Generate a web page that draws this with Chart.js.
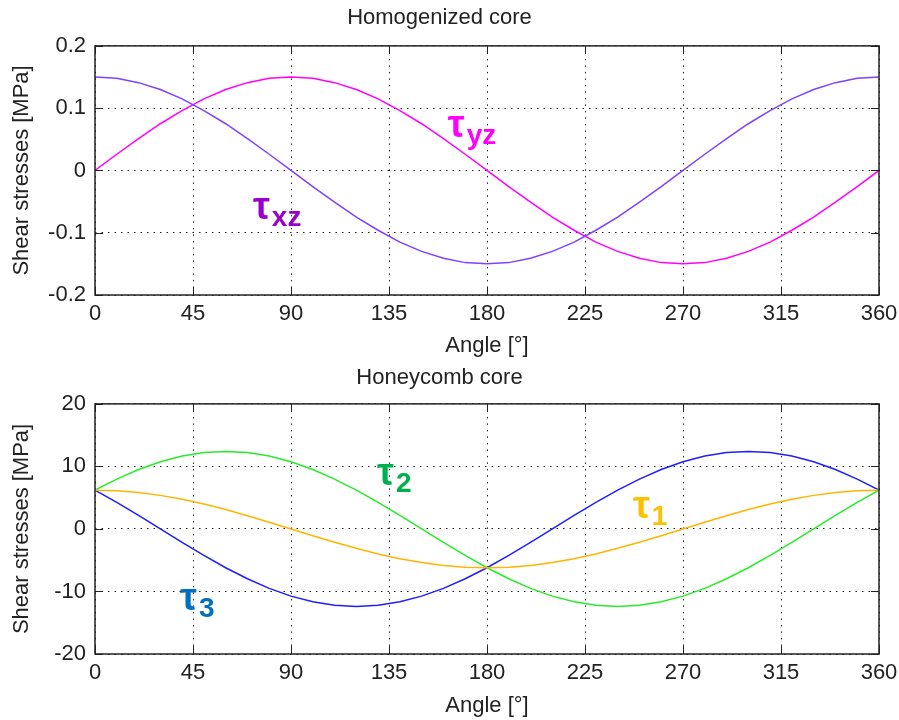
<!DOCTYPE html>
<html>
<head>
<meta charset="utf-8">
<script src="https://cdn.jsdelivr.net/npm/chart.js@4"></script>
<style>
  body { margin: 0; background: #fff; }
  canvas { display: block; }
</style>
</head>
<body>
<canvas id="homChart" width="899" height="360"></canvas>
<canvas id="honChart" width="899" height="360"></canvas>
<script>
// angle samples (deg)
const angles = [0, 10, 20, 30, 40, 50, 60, 70, 80, 90, 100, 110, 120, 130, 140, 150, 160, 170, 180,
  190, 200, 210, 220, 230, 240, 250, 260, 270, 280, 290, 300, 310, 320, 330, 340, 350, 360];
const angleTicks = [0, 45, 90, 135, 180, 225, 270, 315, 360];

// Homogenized core [MPa]
const tauXZ = [0.150, 0.148, 0.141, 0.130, 0.115, 0.096, 0.075, 0.051, 0.026, 0, -0.026, -0.051, -0.075,
  -0.096, -0.115, -0.130, -0.141, -0.148, -0.150, -0.148, -0.141, -0.130, -0.115, -0.096, -0.075, -0.051,
  -0.026, 0, 0.026, 0.051, 0.075, 0.096, 0.115, 0.130, 0.141, 0.148, 0.150];
const tauYZ = [0, 0.026, 0.051, 0.075, 0.096, 0.115, 0.130, 0.141, 0.148, 0.150, 0.148, 0.141, 0.130,
  0.115, 0.096, 0.075, 0.051, 0.026, 0, -0.026, -0.051, -0.075, -0.096, -0.115, -0.130, -0.141, -0.148,
  -0.150, -0.148, -0.141, -0.130, -0.115, -0.096, -0.075, -0.051, -0.026, 0];

// Honeycomb core [MPa]
const tau1 = [6.2, 6.11, 5.83, 5.37, 4.75, 3.99, 3.10, 2.12, 1.08, 0, -1.08, -2.12, -3.10, -3.99, -4.75,
  -5.37, -5.83, -6.11, -6.2, -6.11, -5.83, -5.37, -4.75, -3.99, -3.10, -2.12, -1.08, 0, 1.08, 2.12, 3.10,
  3.99, 4.75, 5.37, 5.83, 6.11, 6.2];
const tau2 = [6.2, 7.97, 9.50, 10.74, 11.65, 12.21, 12.4, 12.21, 11.65, 10.74, 9.50, 7.97, 6.2, 4.24, 2.16,
  0, -2.16, -4.24, -6.2, -7.97, -9.50, -10.74, -11.65, -12.21, -12.4, -12.21, -11.65, -10.74, -9.50, -7.97,
  -6.2, -4.24, -2.16, 0, 2.16, 4.24, 6.2];
const tau3 = [6.2, 4.24, 2.16, 0, -2.16, -4.24, -6.2, -7.97, -9.50, -10.74, -11.65, -12.21, -12.4, -12.21,
  -11.65, -10.74, -9.50, -7.97, -6.2, -4.24, -2.16, 0, 2.16, 4.24, 6.2, 7.97, 9.50, 10.74, 11.65, 12.21,
  12.4, 12.21, 11.65, 10.74, 9.50, 7.97, 6.2];

const topTicks = [-0.2, -0.1, 0, 0.1, 0.2];
const bottomTicks = [-20, -10, 0, 10, 20];

const FONT = "'Liberation Sans', Arial, sans-serif";
const TXT = "#222";

function pts(ys) {
  return angles.map((a, i) => ({ x: a, y: ys[i] }));
}

// box around plot area + inward tick marks (matlab style)
const boxPlugin = {
  id: "box",
  afterDraw(chart) {
    const c = chart.ctx, a = chart.chartArea;
    const xs = chart.scales.x, ys = chart.scales.y;
    c.save();
    c.strokeStyle = "#222";
    c.lineWidth = 1;
    c.beginPath();
    xs.ticks.forEach(t => {
      const px = Math.round(xs.getPixelForValue(t.value)) + 0.5;
      c.moveTo(px, a.top); c.lineTo(px, a.top + 8);
      c.moveTo(px, a.bottom); c.lineTo(px, a.bottom - 8);
    });
    ys.ticks.forEach(t => {
      const py = Math.round(ys.getPixelForValue(t.value)) + 0.5;
      c.moveTo(a.left, py); c.lineTo(a.left + 8, py);
      c.moveTo(a.right, py); c.lineTo(a.right - 8, py);
    });
    c.stroke();
    c.lineWidth = 1.5;
    c.strokeRect(a.left, a.top, a.right - a.left, a.bottom - a.top);
    c.restore();
  }
};

// curve names written next to the lines
const tagPlugin = {
  id: "tags",
  afterDatasetsDraw(chart, args, opts) {
    const c = chart.ctx;
    c.save();
    c.textBaseline = "alphabetic";
    c.textAlign = "left";
    (opts.items || []).forEach(it => {
      const px = chart.scales.x.getPixelForValue(it.x);
      const py = chart.scales.y.getPixelForValue(it.y);
      c.fillStyle = it.color;
      c.font = "bold 38px " + FONT;
      c.fillText(it.main, px, py);
      const w = c.measureText(it.main).width;
      c.font = "bold 28px " + FONT;
      c.fillText(it.sub, px + w + 2, py + 7);
    });
    c.restore();
  }
};

function makeChart(id, title, datasets, yMin, yMax, yTickList, titlePad, xAxisH, tags) {
  return new Chart(document.getElementById(id), {
    type: "line",
    data: { datasets },
    plugins: [boxPlugin, tagPlugin],
    options: {
      responsive: false,
      animation: false,
      layout: { padding: { left: 0, right: 20, top: 0, bottom: 0 } },
      elements: { point: { radius: 0 }, line: { borderWidth: 1.5, tension: 0 } },
      plugins: {
        legend: { display: false },
        tooltip: { enabled: false },
        title: {
          display: true,
          text: title,
          color: TXT,
          font: { family: FONT, size: 22, weight: "normal" },
          padding: titlePad
        },
        tags: { items: tags }
      },
      scales: {
        x: {
          type: "linear",
          min: 0, max: 360,
          afterBuildTicks: s => { s.ticks = angleTicks.map(v => ({ value: v })); },
          afterFit: s => { s.height = xAxisH; s.paddingLeft = 0; s.paddingRight = 0; },
          ticks: { color: TXT, font: { family: FONT, size: 22 }, padding: 6, maxRotation: 0 },
          grid: { color: "#222", lineWidth: 1, drawTicks: false },
          border: { display: false, dash: [1.5, 5] },
          title: { display: true, text: "Angle [°]", color: TXT, font: { family: FONT, size: 22 }, padding: { top: 0, bottom: 0.5 } }
        },
        y: {
          min: yMin, max: yMax,
          afterBuildTicks: s => { s.ticks = yTickList.map(v => ({ value: v })); },
          afterFit: s => { s.width = 95; },
          ticks: { color: TXT, font: { family: FONT, size: 22 }, padding: 9 },
          grid: { color: "#222", lineWidth: 1, drawTicks: false },
          border: { display: false, dash: [1.5, 5] },
          title: { display: true, text: "Shear stresses [MPa]", color: TXT, font: { family: FONT, size: 22 }, padding: { top: 9, bottom: 0 } }
        }
      }
    }
  });
}

makeChart("homChart", "Homogenized core", [
  { label: "τxz", data: pts(tauXZ), borderColor: "rgb(128, 64, 255)" },
  { label: "τyz", data: pts(tauYZ), borderColor: "rgb(255, 0, 255)" }
], -0.2, 0.2, topTicks, { top: 5, bottom: 14.5 }, 65, [
  { main: "τ", sub: "xz", x: 72.5, y: -0.078, color: "#9900cc" },
  { main: "τ", sub: "yz", x: 162, y: 0.054, color: "#ff00ff" }
]);

makeChart("honChart", "Honeycomb core", [
  { label: "τ1", data: pts(tau1), borderColor: "rgb(255, 180, 0)" },
  { label: "τ2", data: pts(tau2), borderColor: "rgb(40, 235, 40)" },
  { label: "τ3", data: pts(tau3), borderColor: "rgb(30, 30, 255)" }
], -20, 20, bottomTicks, { top: 4.5, bottom: 13 }, 66, [
  { main: "τ", sub: "2", x: 129.5, y: 7.0, color: "#00b050" },
  { main: "τ", sub: "1", x: 247, y: 1.8, color: "#ffc000" },
  { main: "τ", sub: "3", x: 39, y: -13, color: "#0070c0" }
]);
</script>
</body>
</html>
